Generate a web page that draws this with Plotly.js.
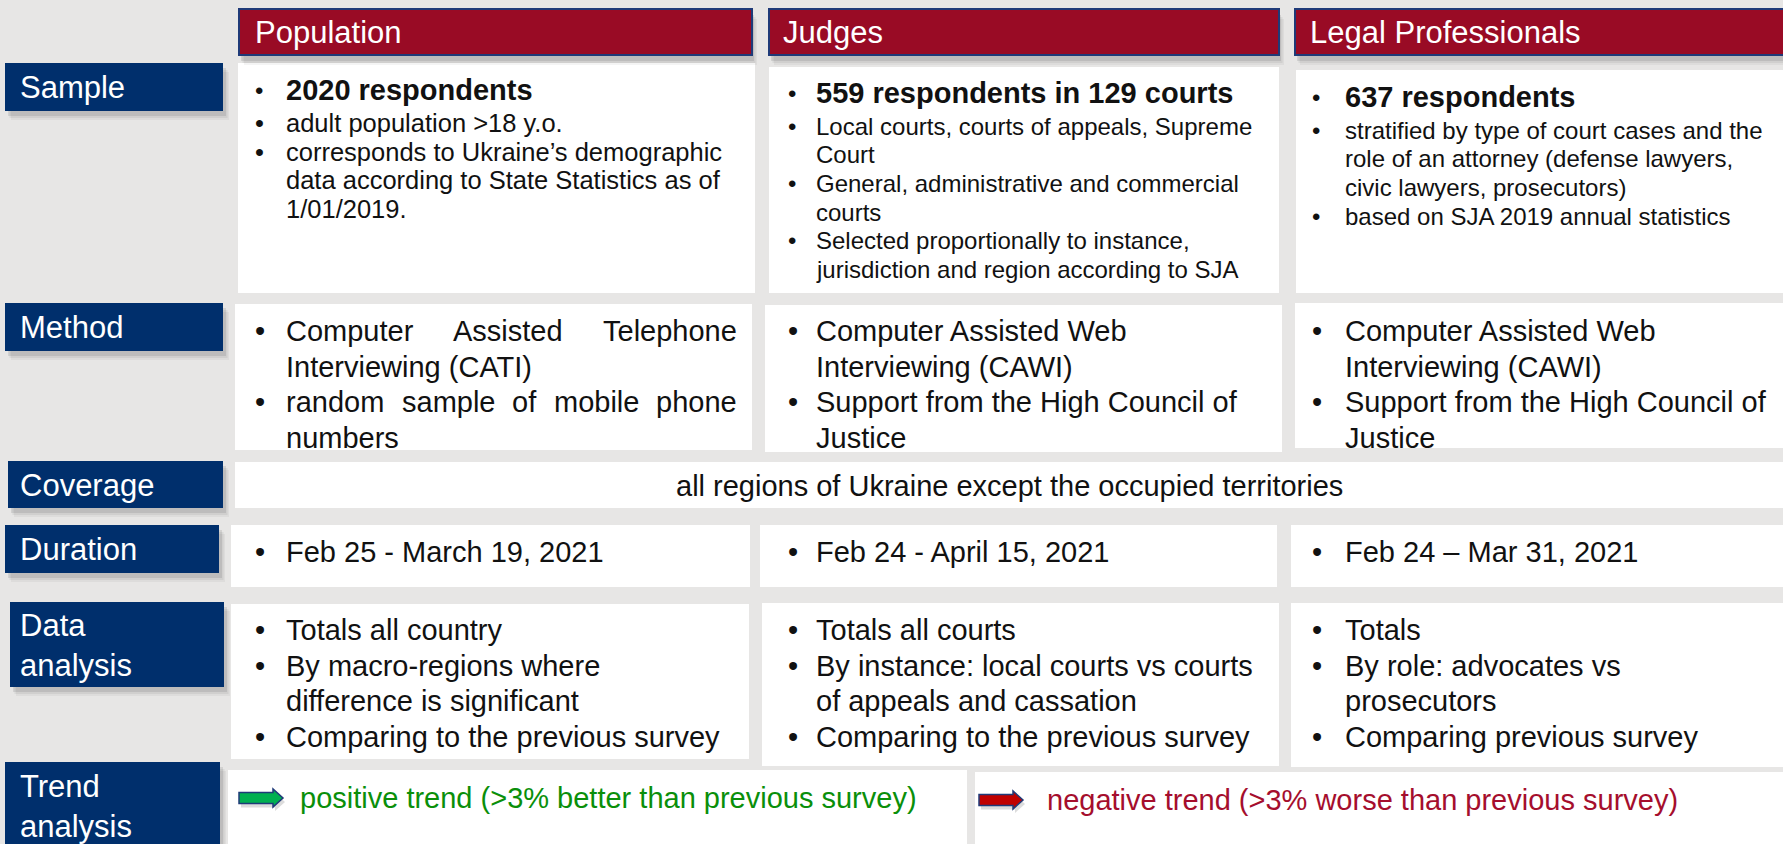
<!DOCTYPE html>
<html><head><meta charset="utf-8">
<script src="https://cdn.plot.ly/plotly-3.0.1.min.js"></script>
<style>html,body{margin:0;padding:0;background:#E7E6E5;overflow:hidden}#chart{width:1783px;height:844px}</style>
</head><body><div id="chart"></div>
<script>
// ---------- content ----------
const columns = ["Population", "Judges", "Legal Professionals"];
const rowLabels = ["Sample", "Method", "Coverage", "Duration", "Data<br>analysis", "Trend<br>analysis"];
const sampleLead = ["2020 respondents", "559 respondents in 129 courts", "637 respondents"];
const sampleNotes = [
  [["adult population >18 y.o."], ["corresponds to Ukraine’s demographic", "data according to State Statistics as of", "1/01/2019."]],
  [["Local courts, courts of appeals, Supreme", "Court"], ["General, administrative and commercial", "courts"], ["Selected proportionally to instance,", "jurisdiction and region according to SJA"]],
  [["stratified by type of court cases and the", "role of an attorney (defense lawyers,", "civic lawyers, prosecutors)"], ["based on SJA 2019 annual statistics"]]
];
const methodItems = [
  [["Computer Assisted Telephone", "Interviewing (CATI)"], ["random sample of mobile phone", "numbers"]],
  [["Computer Assisted Web", "Interviewing (CAWI)"], ["Support from the High Council of", "Justice"]],
  [["Computer Assisted Web", "Interviewing (CAWI)"], ["Support from the High Council of", "Justice"]]
];
const methodJustified = [true, false, false];
const coverageText = "all regions of Ukraine except the occupied territories";
const durationItems = ["Feb 25 - March 19, 2021", "Feb 24 - April 15, 2021", "Feb 24 – Mar 31, 2021"];
const analysisItems = [
  [["Totals all country"], ["By macro-regions where", "difference is significant"], ["Comparing to the previous survey"]],
  [["Totals all courts"], ["By instance: local courts vs courts", "of appeals and cassation"], ["Comparing to the previous survey"]],
  [["Totals"], ["By role: advocates vs", "prosecutors"], ["Comparing previous survey"]]
];
const trendTexts = ["positive trend (>3% better than previous survey)", "negative trend (>3% worse than previous survey)"];

// ---------- styling / geometry ----------
const FONT = "Liberation Sans, Arial, sans-serif";
const BG = "#E7E6E5", RED = "#990B25", NAVY = "#002F6C", EDGE = "#1F3A78";
const W = 1783, H = 844;

const headerBox = [[239, 752], [769, 1279], [1295, 1795]];
const headerTextX = [255, 783, 1310];
const labelBox = [[5, 223, 63, 111], [5, 223, 303, 351], [8, 223, 461, 508], [5, 219, 525, 573], [10, 224, 602, 687], [5, 220, 762, 860]];
const labelTextY = [87, 327, 485, 549, 645, 806];
const cells = [
  [238, 755, 63, 293], [769, 1279, 67, 293], [1296, 1795, 70, 293],
  [235, 752, 304, 450], [765, 1282, 305, 452], [1295, 1795, 303, 448],
  [235, 1795, 462, 508],
  [231, 750, 525, 587], [760, 1277, 525, 587], [1291, 1795, 525, 587],
  [231, 749, 604, 759], [762, 1279, 603, 766], [1291, 1795, 603, 767],
  [228, 967, 770, 860], [975, 1795, 772, 860]
];
const bulletX = [255, 788, 1312];
const textX = [286, 816, 1345];
const textRight = [737, 1262, 1770];
const noteSize = [25.5, 24, 24];

const shapes = [];
const annotations = [];

function rect(x0, x1, y0, y1, fill, line) {
  shapes.push({type: "rect", xref: "x", yref: "y", x0, x1, y0, y1, fillcolor: fill,
    line: line ? {color: line.color, width: line.width} : {width: 0}, layer: "above"});
}
function shadow(x0, x1, y0, y1, dx, dy) {
  const steps = [[dx + 3, dy + 4, 0.06], [dx + 1.5, dy + 2, 0.08], [dx, dy, 0.12]];
  steps.forEach(s => rect(x0 + s[0], x1 + s[0], y0 + s[1], y1 + s[1], "rgba(60,60,60," + s[2] + ")"));
}
function text(x, y, t, size, color, anchor) {
  annotations.push({x, y, xref: "x", yref: "y", text: t, showarrow: false,
    xanchor: anchor || "left", yanchor: "middle", borderpad: 0, borderwidth: 0,
    font: {family: FONT, size, color}, align: "left"});
}

const ctx = document.createElement("canvas").getContext("2d");
function measure(str, size) { ctx.font = size + "px 'Liberation Sans'"; return ctx.measureText(str).width; }
function justified(line, x0, x1, y, size, color) {
  const words = line.split(" ");
  const widths = words.map(w => measure(w, size));
  const gap = (x1 - x0 - widths.reduce((a, b) => a + b, 0)) / (words.length - 1);
  let x = x0;
  words.forEach((w, i) => { text(x, y, w, size, color); x += widths[i] + gap; });
}
function bulletList(col, items, y0, step, size, justify) {
  let y = y0;
  items.forEach(item => {
    text(bulletX[col], y, "•", size, "#111");
    item.forEach((line, li) => {
      if (justify && li < item.length - 1) justified(line, textX[col], textRight[col], y, size, "#111");
      else text(textX[col], y, line, size, "#111");
      y += step;
    });
  });
}

// white cells
cells.forEach(c => rect(c[0], c[1], c[2], c[3], "#FFFFFF"));

// headers
headerBox.forEach((b, i) => {
  shadow(b[0], b[1], 9, 55, 2, 6);
  rect(b[0], b[1], 9, 55, RED, {color: EDGE, width: 2});
  text(headerTextX[i], 32, columns[i], 31, "#FFFFFF");
});

// row labels
labelBox.forEach((b, i) => {
  shadow(b[0], b[1], b[2], b[3], 3, 5);
  rect(b[0], b[1], b[2], b[3], NAVY);
  text(20, labelTextY[i], rowLabels[i], 31, "#FFFFFF");
});

// Sample row
const leadY = [90, 93, 97];
columns.forEach((c, i) => {
  text(bulletX[i], leadY[i], "•", 24, "#111");
  text(textX[i], leadY[i], "<b>" + sampleLead[i] + "</b>", 29, "#111");
  bulletList(i, sampleNotes[i], leadY[i] + 33, 28.7, noteSize[i], false);
});

// Method row
columns.forEach((c, i) => bulletList(i, methodItems[i], 331, 35.5, 29, methodJustified[i]));

// Coverage
text((235 + 1783) / 2, 486, coverageText, 29, "#111", "center");

// Duration
durationItems.forEach((d, i) => bulletList(i, [[d]], 552, 35.5, 29, false));

// Data analysis
analysisItems.forEach((it, i) => bulletList(i, it, 630, 35.7, 29, false));

// Trend analysis arrows + text
function arrow(x0, x1, yc, fill) {
  const hl = 10, sh = 5.5, hh = 9;
  const mk = (dx, dy) => `M ${x0 + dx} ${yc - sh + dy} L ${x1 - hl + dx} ${yc - sh + dy} L ${x1 - hl + dx} ${yc - hh + dy} L ${x1 + dx} ${yc + dy} L ${x1 - hl + dx} ${yc + hh + dy} L ${x1 - hl + dx} ${yc + sh + dy} L ${x0 + dx} ${yc + sh + dy} Z`;
  shapes.push({type: "path", path: mk(2, 4), xref: "x", yref: "y", fillcolor: "rgba(60,60,60,0.18)", line: {width: 0}, layer: "above"});
  shapes.push({type: "path", path: mk(0, 0), xref: "x", yref: "y", fillcolor: fill, line: {color: EDGE, width: 1.5}, layer: "above"});
}
arrow(239, 283, 798, "#00B050");
text(300, 798, trendTexts[0], 29, "#0A8F0A");
arrow(979, 1023, 800, "#C00000");
text(1047, 800, trendTexts[1], 29, "#A50E2D");

const layout = {
  width: W, height: H, margin: {l: 0, r: 0, t: 0, b: 0},
  paper_bgcolor: BG, plot_bgcolor: BG, showlegend: false,
  xaxis: {range: [0, W], visible: false, fixedrange: true},
  yaxis: {range: [H, 0], visible: false, fixedrange: true},
  shapes, annotations
};
Plotly.newPlot("chart", [], layout, {displayModeBar: false, staticPlot: true});
</script>
</body></html>
